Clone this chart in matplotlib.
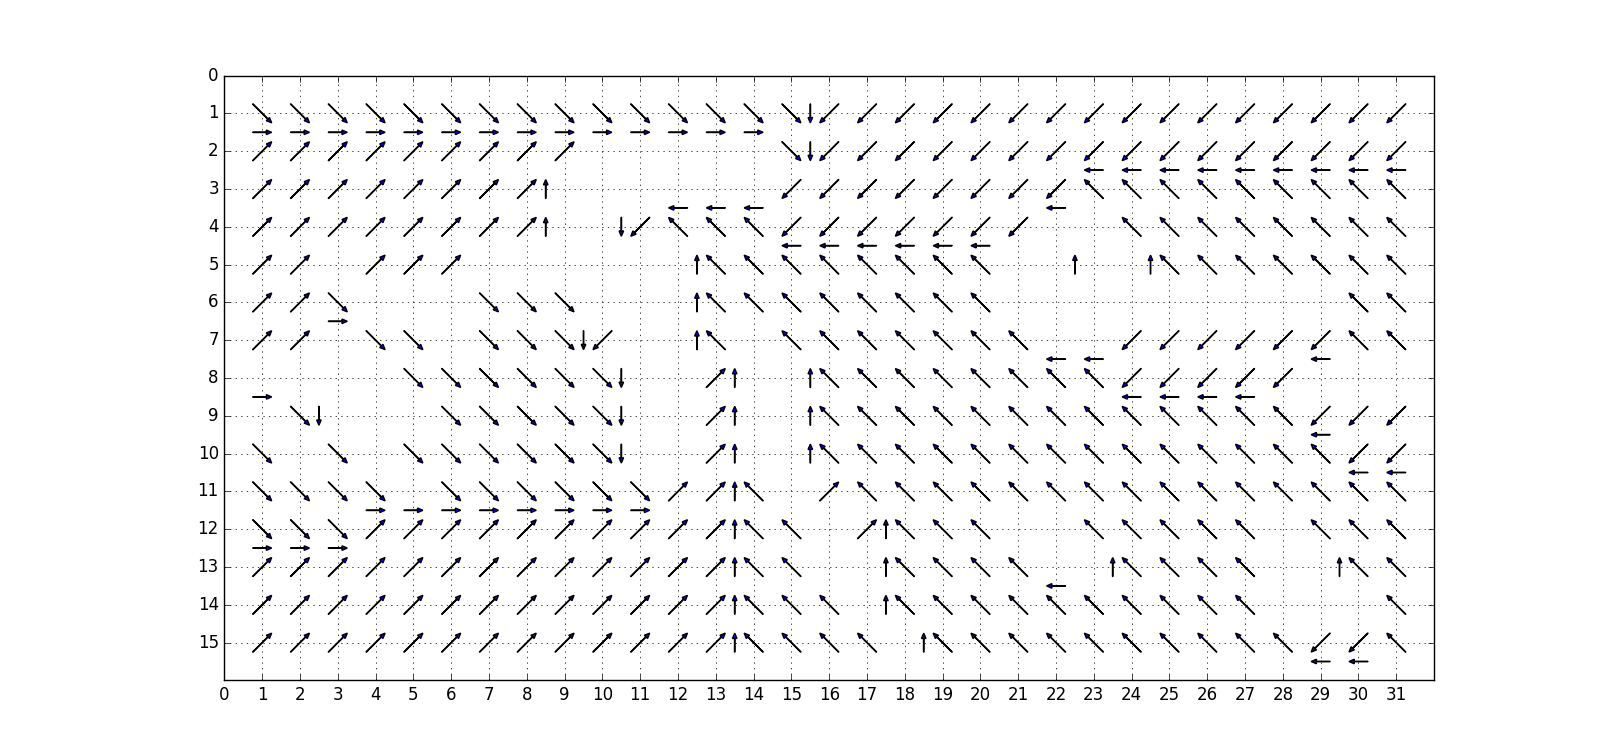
import numpy as np
import matplotlib
matplotlib.use("Agg")
import matplotlib.pyplot as plt

plt.style.use("classic")

# diagonal moves, drawn at (col, row); rows 1..15, cols 1..31
# 7 = up-left, 9 = up-right, 1 = down-left, 3 = down-right (screen directions)
diag_rows = [
    "333333333333333" "1111111111111111",
    "999999999" "....." "3" "1111111111111111",
    "99999999" "......" "11111111" "777777777",
    "99999999" ".." "1" "777" "1111111" ".." "77777777",
    "99.999" "......" "77777777" "...." "7777777",
    "993" "..." "333" "..." "77777777" "........." "77",
    "99.33.3331" ".." "7" "." "7777777" ".." "111111" "77",
    "...." "333333" ".." "9" ".." "77777777" "11111" "...",
    "." "3" "..." "33333" ".." "9" ".." "7777777777777" "111",
    "3" "." "3" "." "333333" ".." "9" ".." "77777777777777" "11",
    "3333" "." "333333" "99" "7" "." "9" "777777777777777",
    "333" "9999999999" "77" "." "9" "777" ".." "77777" "." "777",
    "9999999999999" "77" ".." "7777" ".." "7777" ".." "77",
    "9999999999999" "777" "." "7777777777" "..." "7",
    "9999999999999" "7777" "." "7777777777" "11" "7",
]

# horizontal moves, drawn at (col, row + 0.5)
horiz_rows = [
    ">>>>>>>>>>>>>>" ".................",
    "......................" "<<<<<<<<<",
    "..........." "<<<" "......." "<" ".........",
    ".............." "<<<<<<" "...........",
    "...............................",
    ".." ">" "............................",
    "....................." "<<" "....." "<" "..",
    ">" "......................" "<<<<" "....",
    "............................" "<" "..",
    "............................." "<<",
    "..." ">>>>>>>>" "....................",
    ">>>" "............................",
    "....................." "<" ".........",
    "...............................",
    "............................" "<<" ".",
]

# vertical moves, drawn at (col + 0.5, row)
vert_rows = [
    ".............." "v" "................",
    ".............." "v" "................",
    "......." "^" ".......................",
    "......." "^" "." "v" ".....................",
    "..........." "^" "........." "^" "." "^" ".......",
    "..........." "^" "...................",
    "........" "v" ".." "^" "...................",
    "........." "v" ".." "^" "." "^" "................",
    "." "v" "......." "v" ".." "^" "." "^" "................",
    "........." "v" ".." "^" "." "^" "................",
    "............" "^" "..................",
    "............" "^" "..." "^" "..............",
    "............" "^" "..." "^" "....." "^" "....." "^" "..",
    "............" "^" "..." "^" "..............",
    "............" "^" "...." "^" ".............",
]

dirs = {
    "7": (-1, -1), "9": (1, -1), "1": (-1, 1), "3": (1, 1),
    ">": (1, 0), "<": (-1, 0), "^": (0, -1), "v": (0, 1),
}

fig = plt.figure(figsize=(16.18, 7.56), dpi=100)
ax = fig.add_subplot(111)


def draw(rows, dx_off, dy_off):
    for r, line in enumerate(rows, start=1):
        for c, ch in enumerate(line, start=1):
            if ch not in dirs:
                continue
            ux, uy = dirs[ch]
            x = c + dx_off - 0.25 * ux
            y = r + dy_off - 0.25 * uy
            ax.arrow(x, y, 0.5 * ux, 0.5 * uy, width=0.012, head_width=0.12,
                     head_length=0.14, length_includes_head=True,
                     fc="b", ec="k")


draw(diag_rows, 0.0, 0.0)
draw(horiz_rows, 0.0, 0.5)
draw(vert_rows, 0.5, 0.0)

ax.set_xlim(0, 32)
ax.set_ylim(16, 0)
ax.set_aspect("equal")
ax.set_xticks(np.arange(0, 32))
ax.set_yticks(np.arange(0, 16))
ax.grid(True)

fig.savefig("out.png", dpi=100)
